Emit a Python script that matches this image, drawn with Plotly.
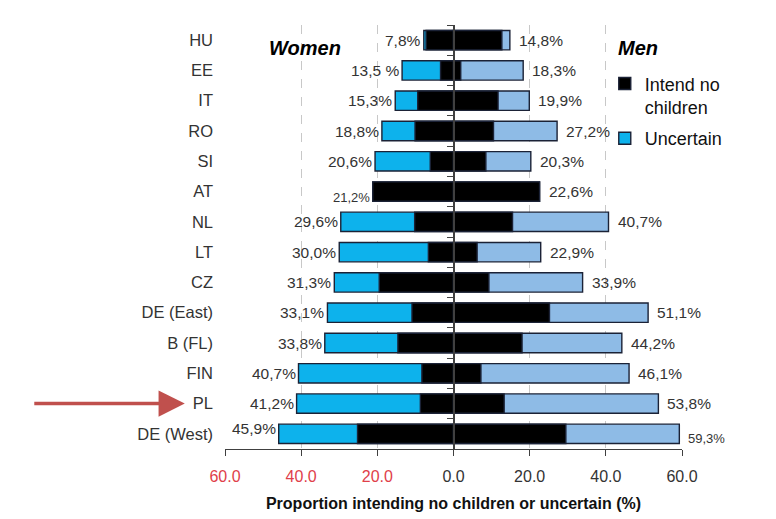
import plotly.graph_objects as go

countries = ["HU", "EE", "IT", "RO", "SI", "AT", "NL", "LT", "CZ",
             "DE (East)", "B (FL)", "FIN", "PL", "DE (West)"]
women_total = [7.8, 13.5, 15.3, 18.8, 20.6, 21.2, 29.6, 30.0, 31.3, 33.1, 33.8, 40.7, 41.2, 45.9]
women_none = [7.2, 3.4, 9.4, 10.1, 6.1, 21.2, 10.2, 6.6, 19.5, 10.9, 14.6, 8.3, 8.7, 25.2]
men_total = [14.8, 18.3, 19.9, 27.2, 20.3, 22.6, 40.7, 22.9, 33.9, 51.1, 44.2, 46.1, 53.8, 59.3]
men_none = [12.7, 1.9, 11.7, 10.5, 8.5, 22.6, 15.5, 6.2, 9.3, 25.2, 18.0, 7.2, 13.3, 29.5]
women_labels = ["7,8%", "13,5 %", "15,3%", "18,8%", "20,6%", "21,2%", "29,6%", "30,0%",
                "31,3%", "33,1%", "33,8%", "40,7%", "41,2%", "45,9%"]
men_labels = ["14,8%", "18,3%", "19,9%", "27,2%", "20,3%", "22,6%", "40,7%", "22,9%",
              "33,9%", "51,1%", "44,2%", "46,1%", "53,8%", "59,3%"]
tick_vals = [-60, -40, -20, 0, 20, 40, 60]
tick_text = ["60.0", "40.0", "20.0", "0.0", "20.0", "40.0", "60.0"]
highlight = "PL"

FONT = "Arial, Liberation Sans, sans-serif"
CYAN = "#0DB2EC"
LIGHT = "#8EBBE6"
OUTLINE = "#1B2236"
TXT = "#333333"
RED_TICK = "#E0404A"

fig = go.Figure()
fig.add_trace(go.Bar(x=[-v for v in women_total], y=countries, orientation="h",
                     marker=dict(color=CYAN, line=dict(color=OUTLINE, width=1.4)),
                     name="Uncertain", legendrank=2, legendgroup="b", hoverinfo="skip"))
fig.add_trace(go.Bar(x=men_total, y=countries, orientation="h",
                     marker=dict(color=LIGHT, line=dict(color=OUTLINE, width=1.4)),
                     showlegend=False, hoverinfo="skip"))
fig.add_trace(go.Bar(x=[-v for v in women_none], y=countries, orientation="h",
                     marker=dict(color="black", line=dict(color=OUTLINE, width=1.4)),
                     name="Intend no<br>children", legendrank=1, legendgroup="a",
                     hoverinfo="skip"))
fig.add_trace(go.Bar(x=men_none, y=countries, orientation="h",
                     marker=dict(color="black", line=dict(color=OUTLINE, width=1.4)),
                     showlegend=False, hoverinfo="skip"))
# invisible trace to carry the centre axis
fig.add_trace(go.Bar(x=[0] * len(countries), y=countries, orientation="h", yaxis="y2",
                     marker=dict(color="rgba(0,0,0,0)"), showlegend=False, hoverinfo="skip"))

annotations = []
for c, wt, wl, mt, ml in zip(countries, women_total, women_labels, men_total, men_labels):
    wsize, wshift = 15.5, 0
    msize, mshift = 15.5, 0
    if c == "AT":
        wsize, wshift = 13, -6
    if c == "DE (West)":
        wshift = 5
        msize, mshift = 13, -5
    annotations.append(dict(x=-wt, y=c, xref="x", yref="y", text=wl, showarrow=False,
                            xanchor="right", xshift=-1, yshift=wshift,
                            font=dict(family=FONT, size=wsize, color=TXT)))
    annotations.append(dict(x=mt, y=c, xref="x", yref="y", text=ml, showarrow=False,
                            xanchor="left", xshift=7, yshift=mshift,
                            font=dict(family=FONT, size=msize, color=TXT)))

annotations.append(dict(x=-39, y=0.945, xref="x", yref="paper", yanchor="middle",
                        text="<b><i>Women</i></b>", showarrow=False,
                        font=dict(family=FONT, size=20, color="black")))
annotations.append(dict(x=48.5, y=0.945, xref="x", yref="paper", yanchor="middle",
                        text="<b><i>Men</i></b>", showarrow=False,
                        font=dict(family=FONT, size=20, color="black")))
annotations.append(dict(x=-0.088, y=highlight, xref="paper", yref="y", text="",
                        showarrow=True, ax=-152, ay=0, arrowhead=2, arrowsize=1.5,
                        arrowwidth=3.5, arrowcolor="#C0504D"))

ticktext_col = [f'<span style="color:{RED_TICK}">{t}</span>' if v < 0 else t
                for v, t in zip(tick_vals, tick_text)]

fig.update_layout(
    width=776, height=519,
    margin=dict(l=225, r=94, t=25, b=70),
    paper_bgcolor="white", plot_bgcolor="white",
    barmode="overlay", bargap=0.36,
    font=dict(family=FONT, color=TXT),
    showlegend=True,
    legend=dict(x=0.831, y=0.905, xanchor="left", yanchor="top", valign="top",
                font=dict(family=FONT, size=18, color="#111111"),
                bgcolor="rgba(0,0,0,0)", tracegroupgap=5, itemwidth=30),
    xaxis=dict(range=[-60, 60], tickvals=tick_vals, ticktext=ticktext_col,
               tickfont=dict(family=FONT, size=16, color=TXT), automargin=False,
               showline=True, linecolor="#404040", linewidth=1.3,
               ticks="outside", ticklen=6, tickcolor="#404040", ticklabelstandoff=7,
               showgrid=True, griddash="dash", gridcolor="#C8C8C8", gridwidth=1,
               zeroline=False,
               title=dict(text="<b>Proportion intending no children or uncertain (%)</b>",
                          font=dict(family=FONT, size=16, color="#111111"), standoff=13)),
    yaxis=dict(type="category", categoryarray=countries, categoryorder="array",
               range=[13.5, -0.5], showline=False, showgrid=False, zeroline=False,
               ticks="", ticklabelstandoff=11, automargin=False,
               tickfont=dict(family=FONT, size=16.5, color=TXT)),
    yaxis2=dict(type="category", categoryarray=countries, categoryorder="array",
                range=[13.5, -0.5], overlaying="y", anchor="free", position=0.5,
                showline=True, linecolor="#404040", linewidth=1.5, automargin=False,
                ticks="outside", tickson="boundaries", ticklen=6, tickcolor="#404040",
                showticklabels=False, showgrid=False, zeroline=False),
    annotations=annotations,
)

fig.write_html("out.html")
